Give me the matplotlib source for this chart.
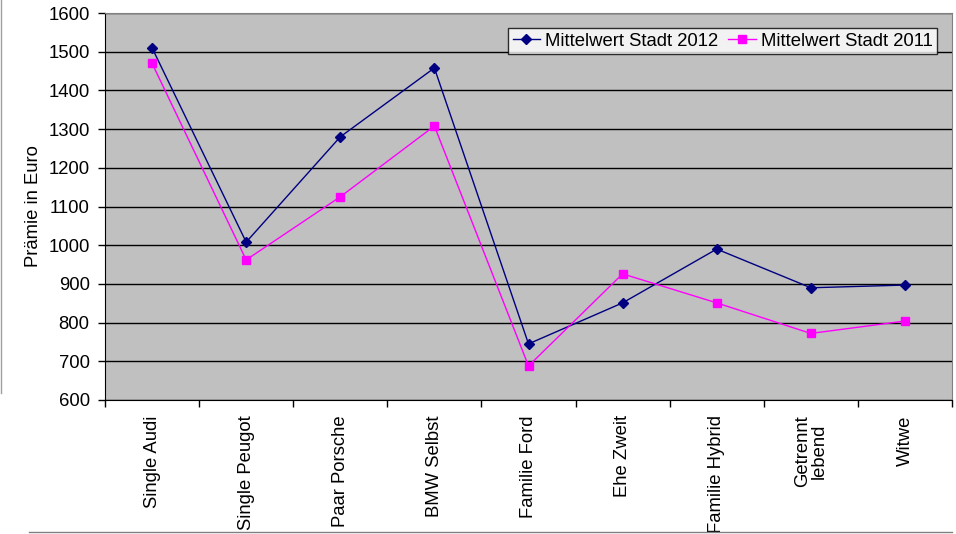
import matplotlib
matplotlib.use("Agg")
import matplotlib.pyplot as plt
import numpy as np
from matplotlib.lines import Line2D

plt.rcParams["font.family"] = ["Liberation Sans", "DejaVu Sans"]

categories = ["Single Audi", "Single Peugot", "Paar Porsche", "BMW Selbst", "Familie Ford",
              "Ehe Zweit", "Familie Hybrid", "Getrennt\nlebend", "Witwe"]
stadt_2012 = [1510, 1008, 1280, 1458, 745, 851, 990, 890, 897]
stadt_2011 = [1470, 962, 1125, 1308, 688, 926, 851, 772, 804]
y_ticks = list(range(600, 1700, 100))

FS = 13.3

fig = plt.figure(figsize=(9.56, 5.34), dpi=100)
ax = fig.add_axes([105 / 956, 1 - 400 / 534, (952 - 105) / 956, (400 - 13) / 534])
ax.set_facecolor("#C0C0C0")

x = np.arange(len(categories))
ax.plot(x, stadt_2012, color="#000080", lw=1, marker="D", ms=5, label="Mittelwert Stadt 2012", zorder=3)
ax.plot(x, stadt_2011, color="#FF00FF", lw=1, marker="s", ms=6, label="Mittelwert Stadt 2011", zorder=3)

ax.set_xlim(-0.5, len(categories) - 0.5)
ax.set_ylim(600, 1600)
ax.set_yticks(y_ticks)
ax.yaxis.grid(True, color="black", lw=1)
ax.set_axisbelow(True)
ax.tick_params(axis="y", labelsize=FS, length=5, width=1, direction="out", pad=6)

ax.set_xticks(x)
ax.set_xticklabels(categories, rotation=90, ha="center", va="top", fontsize=FS, linespacing=0.95)
ax.set_xticks(np.arange(-0.5, len(categories)), minor=True)
ax.tick_params(axis="x", which="major", length=0, pad=11)
ax.tick_params(axis="x", which="minor", length=5, width=1, direction="out")

ax.set_ylabel("Prämie in Euro", fontsize=FS)
ax.yaxis.set_label_coords(-(105 - 42) / (952 - 105), 0.5)

for s in ["top", "right"]:
    ax.spines[s].set_color("#808080")
for s in ["left", "bottom"]:
    ax.spines[s].set_color("black")

leg = ax.legend(loc="upper right", bbox_to_anchor=(937 / 956, 1 - 28 / 534), bbox_transform=fig.transFigure,
                ncol=2, fontsize=FS, frameon=True, fancybox=False, edgecolor="black",
                handlelength=1.5, handletextpad=0.25, columnspacing=0.55, borderpad=0.25,
                borderaxespad=0)
leg.get_frame().set_linewidth(1)

# fragments of the outer chart frame
fig.add_artist(Line2D([1 / 956, 1 / 956], [1, 1 - 393 / 534], color="#A0A0A0", lw=1))
fig.add_artist(Line2D([29 / 956, 952 / 956], [1 - 532 / 534, 1 - 532 / 534], color="#808080", lw=1))

fig.savefig("out.png", dpi=100)
